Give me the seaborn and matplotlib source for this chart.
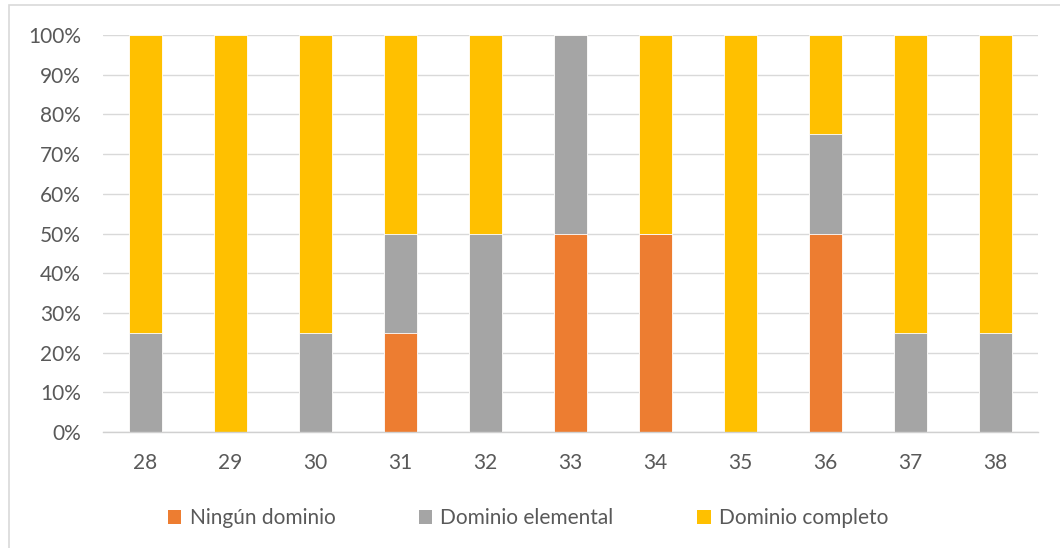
import numpy as np
import pandas as pd
import matplotlib
matplotlib.use("Agg")
import matplotlib.pyplot as plt
import seaborn as sns
from matplotlib.patches import Patch, Rectangle

# Datos (porcentajes)
categorias = ["28", "29", "30", "31", "32", "33", "34", "35", "36", "37", "38"]
ningun = [0, 0, 0, 25, 0, 50, 50, 0, 50, 0, 0]
elemental = [25, 0, 25, 25, 50, 50, 0, 0, 25, 25, 25]
completo = [75, 100, 75, 50, 50, 0, 50, 100, 25, 75, 75]
series = ["Ningún dominio", "Dominio elemental", "Dominio completo"]
colores = ["#ED7D31", "#A5A5A5", "#FFC000"]

sns.set_style("white")
plt.rcParams["font.family"] = ["Lato", "DejaVu Sans"]

df = pd.DataFrame({"cat": categorias, "n": ningun, "e": elemental, "c": completo})
df["tope_e"] = df["n"] + df["e"]
df["tope_c"] = df["tope_e"] + df["c"]

fig = plt.figure(figsize=(10.6, 5.48), dpi=100)
ax = fig.add_axes([103 / 1060, 1 - 432 / 548, (1038 - 103) / 1060, (432 - 35) / 548])

# barras apiladas: se dibuja el acumulado de arriba hacia abajo
for col, color in [("tope_c", colores[2]), ("tope_e", colores[1]), ("n", colores[0])]:
    sns.barplot(data=df, x="cat", y=col, order=categorias, color=color,
                width=0.39, saturation=1, ax=ax, edgecolor="white", linewidth=0.6)

ax.set_ylim(0, 100)
ax.set_xlim(-0.5, len(categorias) - 0.5)
ax.set_yticks(np.arange(0, 101, 10))
ax.set_yticklabels([f"{v}%" for v in range(0, 101, 10)])
ax.set_xlabel("")
ax.set_ylabel("")
ax.yaxis.grid(True, color="#D9D9D9", linewidth=1)
ax.set_axisbelow(True)
for s in ["top", "right", "left"]:
    ax.spines[s].set_visible(False)
ax.spines["bottom"].set_color("#D0D0D0")
ax.spines["bottom"].set_linewidth(1)
ax.tick_params(axis="both", length=0, labelsize=15, colors="#595959")
ax.tick_params(axis="y", pad=16)
ax.tick_params(axis="x", pad=15)

handles = [Patch(facecolor=c, edgecolor="none") for c in colores]
fig.legend(handles, series, loc="center", bbox_to_anchor=(528 / 1060, 1 - 518 / 548),
           ncol=3, frameon=False, fontsize=15, handlelength=0.65, handleheight=0.65,
           handletextpad=0.4, columnspacing=4.0, labelcolor="#595959")

# borde del área del gráfico
fig.patches.append(Rectangle((9 / 1060, -0.01), 1.0, 1 - 5 / 548 + 0.01,
                             transform=fig.transFigure, fill=False,
                             edgecolor="#D9D9D9", linewidth=1.2))

fig.savefig("out.png", dpi=100)
